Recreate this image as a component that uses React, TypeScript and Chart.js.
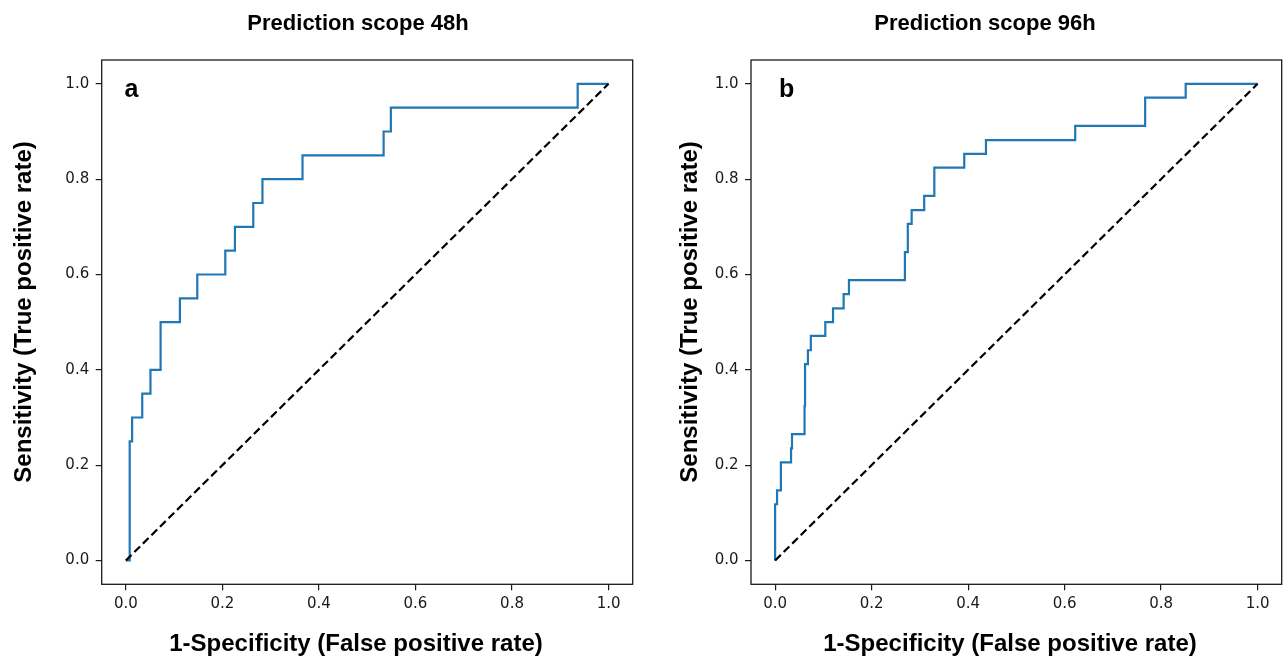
import React, { useEffect, useRef } from "react";
import { Chart, registerables } from "chart.js";

Chart.register(...registerables);

// ---------- data ----------
const TICKS = [0, 0.2, 0.4, 0.6, 0.8, 1.0];
const TITLES = ["Prediction scope 48h", "Prediction scope 96h"];
const PANEL_LETTERS = ["a", "b"];
const X_LABEL = "1-Specificity (False positive rate)";
const Y_LABEL = "Sensitivity (True positive rate)";

const DIAG_X = [0, 1];
const DIAG_Y = [0, 1];

const FPR_48 = [0, 0.008, 0.008, 0.013, 0.013, 0.034, 0.034, 0.051, 0.051, 0.072, 0.072, 0.112, 0.112, 0.148, 0.148, 0.206, 0.206, 0.226, 0.226, 0.264, 0.264, 0.283, 0.283, 0.366, 0.366, 0.534, 0.534, 0.549, 0.549, 0.936, 0.936, 1.0];
const TPR_48 = [0, 0, 0.25, 0.25, 0.30, 0.30, 0.35, 0.35, 0.40, 0.40, 0.50, 0.50, 0.55, 0.55, 0.60, 0.60, 0.65, 0.65, 0.70, 0.70, 0.75, 0.75, 0.80, 0.80, 0.85, 0.85, 0.90, 0.90, 0.95, 0.95, 1.0, 1.0];

const FPR_96 = [0, 0, 0.004, 0.004, 0.012, 0.012, 0.033, 0.033, 0.035, 0.035, 0.061, 0.061, 0.062, 0.062, 0.068, 0.068, 0.074, 0.074, 0.104, 0.104, 0.120, 0.120, 0.142, 0.142, 0.153, 0.153, 0.269, 0.269, 0.275, 0.275, 0.283, 0.283, 0.309, 0.309, 0.330, 0.330, 0.392, 0.392, 0.437, 0.437, 0.622, 0.622, 0.767, 0.767, 0.851, 0.851, 1.0];
const TPR_96 = [0, 0.118, 0.118, 0.147, 0.147, 0.206, 0.206, 0.235, 0.235, 0.265, 0.265, 0.324, 0.324, 0.412, 0.412, 0.441, 0.441, 0.471, 0.471, 0.500, 0.500, 0.529, 0.529, 0.559, 0.559, 0.588, 0.588, 0.647, 0.647, 0.706, 0.706, 0.735, 0.735, 0.765, 0.765, 0.824, 0.824, 0.853, 0.853, 0.882, 0.882, 0.912, 0.912, 0.971, 0.971, 1.0, 1.0];

const SERIES = [
  { fpr: FPR_48, tpr: TPR_48 },
  { fpr: FPR_96, tpr: TPR_96 },
];

// ---------- layout (canvas-local px) ----------
const W = 644;
const H = 659;
const LAYOUT = [
  {
    offsetX: 0,
    area: { left: 101.7, right: 632.7, top: 60, bottom: 584.3 },
    titleX: 358, titleY: 30,
    yLabelX: 31, yLabelY: 312,
    xLabelX: 356, xLabelY: 651,
    letterX: 124.5, letterY: 96.7,
  },
  {
    offsetX: 644,
    area: { left: 107, right: 637.7, top: 60, bottom: 584.3 },
    titleX: 341, titleY: 30,
    yLabelX: 52.5, yLabelY: 312,
    xLabelX: 366, xLabelY: 651,
    letterX: 135, letterY: 96.7,
  },
];

const BOLD = '"Liberation Sans", Arial, sans-serif';
const TICK_FONT = '"DejaVu Sans", sans-serif';
const INK = "#1a1a1a";

function Panel({ idx }: { idx: number }) {
  const ref = useRef<HTMLCanvasElement | null>(null);

  useEffect(() => {
    const canvas = ref.current;
    if (!canvas) return;
    const L = LAYOUT[idx];
    const s = SERIES[idx];
    const xHeight = 40;

    const decor = {
      id: "decor" + idx,
      afterDraw(chart: any) {
        const ctx = chart.ctx;
        const a = chart.chartArea;
        ctx.save();
        ctx.strokeStyle = INK;
        ctx.lineWidth = 1.3;
        ctx.strokeRect(a.left, a.top, a.right - a.left, a.bottom - a.top);

        ctx.fillStyle = "#000";
        ctx.textBaseline = "alphabetic";
        // title
        ctx.font = `bold 22px ${BOLD}`;
        ctx.textAlign = "center";
        ctx.fillText(TITLES[idx], L.titleX, L.titleY);
        // x label
        ctx.font = `bold 24px ${BOLD}`;
        ctx.fillText(X_LABEL, L.xLabelX, L.xLabelY);
        // y label
        ctx.save();
        ctx.translate(L.yLabelX, L.yLabelY);
        ctx.rotate(-Math.PI / 2);
        ctx.fillText(Y_LABEL, 0, 0);
        ctx.restore();
        // panel letter
        ctx.font = `bold 25px ${BOLD}`;
        ctx.textAlign = "left";
        ctx.fillText(PANEL_LETTERS[idx], L.letterX, L.letterY);
        ctx.restore();
      },
    };

    const tickCfg = {
      color: INK,
      font: { family: TICK_FONT, size: 15 },
      callback: (v: any) => Number(v).toFixed(1),
    };
    const gridCfg = {
      display: true,
      drawOnChartArea: false,
      drawTicks: true,
      tickLength: 6,
      color: INK,
      lineWidth: 1.2,
    };

    const chart = new Chart(canvas, {
      type: "scatter",
      data: {
        datasets: [
          {
            data: DIAG_X.map((x, i) => ({ x, y: DIAG_Y[i] })),
            showLine: true,
            borderColor: "#000",
            borderWidth: 2.2,
            borderDash: [8, 4],
            pointRadius: 0,
            tension: 0,
          },
          {
            data: s.fpr.map((x, i) => ({ x, y: s.tpr[i] })),
            showLine: true,
            borderColor: "#1f77b4",
            borderWidth: 2.2,
            pointRadius: 0,
            tension: 0,
          },
        ],
      },
      plugins: [decor],
      options: {
        responsive: false,
        animation: false,
        devicePixelRatio: 1,
        layout: {
          padding: {
            left: 0,
            top: L.area.top,
            right: W - L.area.right,
            bottom: H - L.area.bottom - xHeight,
          },
        },
        plugins: {
          legend: { display: false },
          tooltip: { enabled: false },
          title: { display: false },
        },
        scales: {
          x: {
            type: "linear",
            min: -0.05,
            max: 1.05,
            afterBuildTicks: (sc: any) => {
              sc.ticks = TICKS.map((v) => ({ value: v }));
            },
            afterFit: (sc: any) => {
              sc.height = xHeight;
            },
            ticks: { ...tickCfg, padding: 5, maxRotation: 0, autoSkip: false },
            grid: gridCfg,
            border: { display: false },
          },
          y: {
            type: "linear",
            min: -0.05,
            max: 1.05,
            afterBuildTicks: (sc: any) => {
              sc.ticks = TICKS.map((v) => ({ value: v }));
            },
            afterFit: (sc: any) => {
              sc.width = L.area.left;
            },
            ticks: { ...tickCfg, padding: 6.5, autoSkip: false },
            grid: gridCfg,
            border: { display: false },
          },
        },
      },
    } as any);

    return () => chart.destroy();
  }, [idx]);

  const L = LAYOUT[idx];
  return (
    <canvas
      ref={ref}
      width={W}
      height={H}
      style={{ position: "absolute", left: L.offsetX, top: 0, width: W, height: H }}
    />
  );
}

export default function App() {
  return (
    <div
      style={{
        position: "absolute",
        left: 0,
        top: 0,
        width: 1288,
        height: 659,
        background: "#fff",
        overflow: "hidden",
      }}
    >
      <Panel idx={0} />
      <Panel idx={1} />
    </div>
  );
}
